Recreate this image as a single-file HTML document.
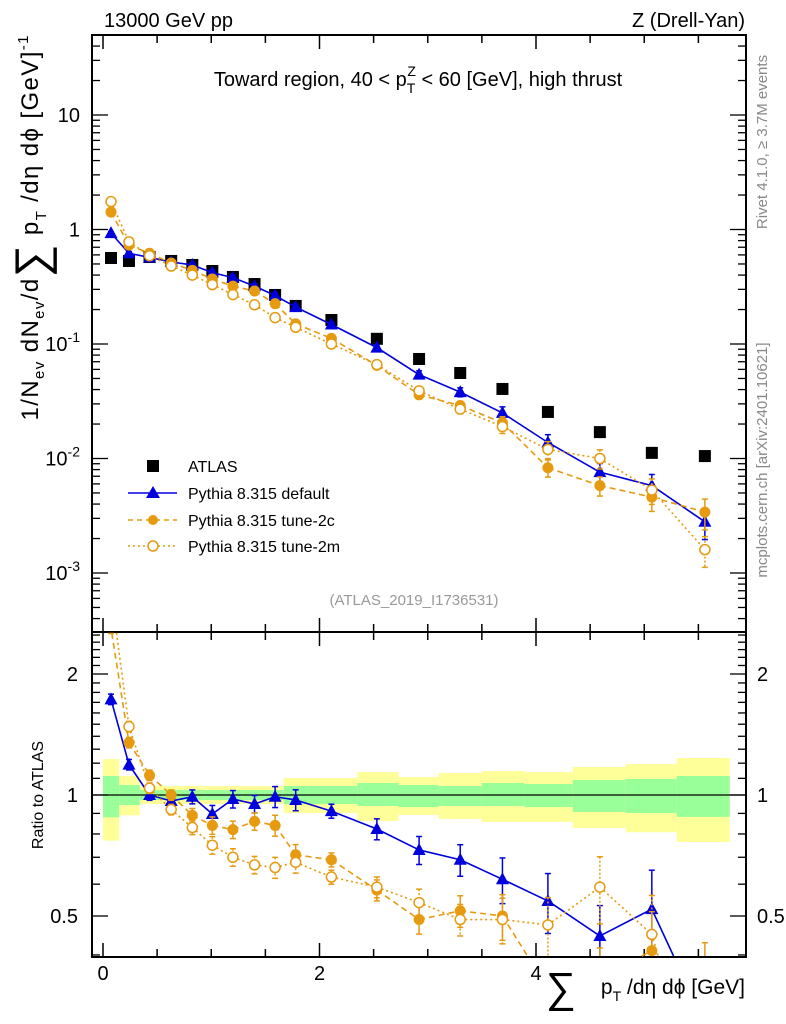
<!DOCTYPE html>
<html><head><meta charset="utf-8"><style>
html,body{margin:0;padding:0;background:#fff;overflow:hidden;width:786px;height:1024px;}
svg{display:block;font-family:"Liberation Sans",sans-serif;overflow:hidden;}
</style></head><body>
<svg id="c" width="786" height="1024" viewBox="0 0 786 1024" xmlns="http://www.w3.org/2000/svg">
<g id="bands"></g>
<g id="axes"></g>
<g id="marks"></g>
<text x="104" y="27" font-size="20">13000 GeV pp</text>
<text x="745" y="27" font-size="20" text-anchor="end">Z (Drell-Yan)</text>
<text x="418" y="86" font-size="20" text-anchor="middle">Toward region, 40 &lt; p<tspan font-size="14" dy="7">T</tspan><tspan font-size="14" dx="-8" dy="-17">Z</tspan><tspan dy="10"> &lt; 60 [GeV], high thrust</tspan></text>
<g transform="translate(38,228) rotate(-90)">
<text x="0" y="0" font-size="24" text-anchor="middle" textLength="385" lengthAdjust="spacing">1/N<tspan font-size="15" dy="6">ev</tspan><tspan dy="-6"> dN</tspan><tspan font-size="15" dy="6">ev</tspan><tspan dy="-6">/d</tspan><tspan font-size="46" dy="9">∑</tspan><tspan dy="-9"> p</tspan><tspan font-size="15" dy="8">T</tspan><tspan dy="-8"> /dη dϕ  [GeV]</tspan><tspan font-size="15" dy="-10">-1</tspan></text>
</g>
<text transform="translate(43,795) rotate(-90)" font-size="16" text-anchor="middle">Ratio to ATLAS</text>
<text transform="translate(767,142) rotate(-90)" font-size="15" fill="#888" text-anchor="middle">Rivet 4.1.0, ≥ 3.7M events</text>
<text transform="translate(767,460) rotate(-90)" font-size="15" fill="#888" text-anchor="middle">mcplots.cern.ch [arXiv:2401.10621]</text>
<text x="414" y="605" font-size="15" fill="#999" text-anchor="middle">(ATLAS_2019_I1736531)</text>
<g>
<text x="576" y="1002" font-size="42" text-anchor="end">∑</text>
<text x="745" y="994" font-size="21" text-anchor="end">p<tspan font-size="14" dy="7">T</tspan><tspan dy="-7"> /dη dϕ [GeV]</tspan></text>
</g>
<g>
<rect x="147" y="460" width="12" height="12" fill="#000"/>
<text x="188" y="472" font-size="16">ATLAS</text>
<line x1="128" y1="493" x2="177" y2="493" stroke="#0000dd" stroke-width="1.5"/>
<polygon points="153,486 160,498 146,498" fill="#0000dd"/>
<text x="188" y="499" font-size="16">Pythia 8.315 default</text>
<line x1="128" y1="520" x2="177" y2="520" stroke="#e69a10" stroke-width="1.5" stroke-dasharray="5,4"/>
<circle cx="153" cy="520" r="5" fill="#e69a10"/>
<text x="188" y="526" font-size="16">Pythia 8.315 tune-2c</text>
<line x1="128" y1="546" x2="177" y2="546" stroke="#e69a10" stroke-width="1.5" stroke-dasharray="2,3"/>
<circle cx="153" cy="546" r="5" fill="#fff" stroke="#e69a10" stroke-width="1.5"/>
<text x="188" y="552" font-size="16">Pythia 8.315 tune-2m</text>
</g>
</svg>
<script>
const xCenters=[0.074,0.24,0.43,0.63,0.825,1.01,1.2,1.4,1.59,1.78,2.11,2.53,2.92,3.3,3.69,4.11,4.59,5.07,5.56];
const binEdges=[0,0.15,0.34,0.52,0.72,0.92,1.1,1.3,1.5,1.67,1.9,2.35,2.73,3.1,3.5,3.89,4.34,4.83,5.3,5.79];
const atlasVals=[0.564,0.531,0.575,0.531,0.49,0.434,0.385,0.334,0.268,0.215,0.162,0.111,0.074,0.0558,0.0405,0.0255,0.017,0.0112,0.0105];
const defaultVals=[0.93,0.62,0.57,0.52,0.49,0.42,0.38,0.32,0.265,0.21,0.148,0.093,0.054,0.038,0.025,0.0138,0.0076,0.0058,0.0028];
const tune2cVals=[1.42,0.73,0.62,0.51,0.44,0.37,0.32,0.29,0.225,0.15,0.112,0.065,0.036,0.029,0.0205,0.0083,0.0058,0.0046,0.0034];
const tune2mVals=[1.75,0.78,0.59,0.48,0.40,0.33,0.27,0.22,0.17,0.14,0.10,0.066,0.039,0.027,0.019,0.012,0.010,0.0053,0.0016];
const defaultRatio=[1.73,1.19,1.0,0.966,0.99,0.897,0.977,0.95,0.99,0.972,0.912,0.823,0.73,0.69,0.617,0.545,0.446,0.52,0.27];
const tune2cRatio=[2.6,1.35,1.12,1.0,0.89,0.84,0.82,0.86,0.84,0.71,0.69,0.58,0.49,0.515,0.50,0.33,0.35,0.41,0.33];
const tune2mRatio=[3.2,1.48,1.04,0.92,0.83,0.75,0.70,0.67,0.66,0.68,0.625,0.59,0.54,0.49,0.49,0.475,0.59,0.45,0.16];
const relErr=[0.03,0.03,0.03,0.03,0.04,0.05,0.05,0.05,0.06,0.06,0.04,0.06,0.08,0.09,0.13,0.17,0.19,0.25,0.3];
const greenUp=[1.115,1.059,1.029,1.029,1.029,1.029,1.029,1.029,1.029,1.053,1.053,1.071,1.059,1.053,1.071,1.065,1.09,1.096,1.115];
const greenDn=[0.88,0.944,0.972,0.972,0.972,0.972,0.972,0.972,0.972,0.95,0.95,0.939,0.933,0.939,0.939,0.933,0.908,0.902,0.882];
const yellowUp=[1.229,1.115,1.053,1.053,1.053,1.053,1.053,1.053,1.053,1.102,1.102,1.14,1.108,1.134,1.147,1.14,1.174,1.194,1.236];
const yellowDn=[0.77,0.89,0.95,0.95,0.95,0.95,0.95,0.95,0.95,0.902,0.902,0.862,0.892,0.872,0.857,0.857,0.828,0.808,0.764];
const xTickLabels=[0,2,4];
const mainTickLabels=["10^-3","10^-2","10^-1","1","10"];
const ratioTickLabels=["0.5","1","2"];

const NS="http://www.w3.org/2000/svg";
const X=v=>103+108.25*v;
const YM=v=>229.5-114.5*Math.log10(v);
const YR=r=>795-121*Math.log2(r);
function mk(tag,attrs,parent){const e=document.createElementNS(NS,tag);for(const k in attrs)e.setAttribute(k,attrs[k]);parent.appendChild(e);return e;}
const bands=document.getElementById('bands'),axes=document.getElementById('axes'),marks=document.getElementById('marks');
const clampR=y=>Math.max(633,Math.min(956,y));

for(let i=0;i<xCenters.length;i++){
  const x0=X(binEdges[i]),x1=X(binEdges[i+1]);
  const yt=clampR(YR(yellowUp[i])),yb=clampR(YR(yellowDn[i]));
  const y=mk('rect',{x:x0,y:yt,width:x1-x0,height:yb-yt,fill:'#ffff99'},bands);
  
  
  const gt=clampR(YR(greenUp[i])),gb=clampR(YR(greenDn[i]));
  const g=mk('rect',{x:x0,y:gt,width:x1-x0,height:gb-gt,fill:'#99ff99'},bands);
  
  
}
mk('line',{x1:92,y1:YR(1),x2:746,y2:YR(1),stroke:'#000','stroke-width':1.3},axes);

mk('rect',{x:92,y:35,width:654,height:597,fill:'none',stroke:'#000','stroke-width':2},axes);
mk('rect',{x:92,y:632,width:654,height:325,fill:'none',stroke:'#000','stroke-width':2},axes);

for(let v=0;v<=6;v+=0.5){
  const x=X(v);if(x>746)break;
  const major=(v%2===0);const L=major?14:8;
  for(const [yt,dir] of [[35,1],[632,-1],[632,1],[957,-1]]){
    mk('line',{x1:x,y1:yt,x2:x,y2:yt+dir*L,stroke:'#000','stroke-width':1.5},axes);
  }
}
xTickLabels.forEach(v=>{
  const t=mk('text',{x:X(v),y:980,'font-size':20,'text-anchor':'middle'},axes);
  t.textContent=v;
  
  
});
for(let d=-4;d<=1;d++){
  for(let m=1;m<10;m++){
    const v=m*Math.pow(10,d);const y=YM(v);
    if(y<35||y>632)continue;
    const L=m===1?16:8;
    mk('line',{x1:92,y1:y,x2:92+L,y2:y,stroke:'#000','stroke-width':1.3},axes);
    mk('line',{x1:746,y1:y,x2:746-L,y2:y,stroke:'#000','stroke-width':1.3},axes);
  }
}
mainTickLabels.forEach((s,i)=>{
  const v=Math.pow(10,i-3);const y=YM(v);
  const t=mk('text',{x:80,y:y+7,'font-size':20,'text-anchor':'end'},axes);
  if(s.indexOf('^')>=0){const p=s.split('^');t.textContent=p[0];const sp=mk('tspan',{'font-size':14,dy:-9},t);sp.textContent=p[1];}
  else t.textContent=s;
  
  
});
for(let r=0.4;r<=2.55;r+=0.1){
  const rr=Math.round(r*10)/10;const y=YR(rr);if(y<632||y>957)continue;
  const major=(rr===0.5||rr===1||rr===2);const L=major?16:8;
  mk('line',{x1:92,y1:y,x2:92+L,y2:y,stroke:'#000','stroke-width':1.3},axes);
  mk('line',{x1:746,y1:y,x2:746-L,y2:y,stroke:'#000','stroke-width':1.3},axes);
}
ratioTickLabels.forEach(s=>{
  const y=YR(parseFloat(s));
  const t=mk('text',{x:78,y:y+7,'font-size':20,'text-anchor':'end'},axes);t.textContent=s;
  
  
  const t2=mk('text',{x:757,y:y+7,'font-size':20},axes);t2.textContent=s;
  
  
});

const series=[
 {name:'default',main:defaultVals,ratio:defaultRatio,color:'#0000dd',dash:'',marker:'tri'},
 {name:'tune-2c',main:tune2cVals,ratio:tune2cRatio,color:'#e69a10',dash:'6,4',marker:'dot'},
 {name:'tune-2m',main:tune2mVals,ratio:tune2mRatio,color:'#e69a10',dash:'2,3',marker:'open'}
];
function drawMarker(g,m,x,y,c){
  let e;
  if(m==='tri')e=mk('polygon',{points:`${x},${y-7} ${x+6.5},${y+5} ${x-6.5},${y+5}`,fill:c},g);
  else if(m==='dot')e=mk('circle',{cx:x,cy:y,r:5.5,fill:c},g);
  else e=mk('circle',{cx:x,cy:y,r:5,fill:'#fff',stroke:c,'stroke-width':1.5},g);
  return e;
}
// clip a segment to [top,bot] in y
function clipSeg(x1,y1,x2,y2,top,bot){
  function cut(xa,ya,xb,yb,yc){const t=(yc-ya)/(yb-ya);return [xa+t*(xb-xa),yc];}
  if((y1<top&&y2<top)||(y1>bot&&y2>bot))return null;
  let a=[x1,y1],b=[x2,y2];
  if(a[1]<top)a=cut(x1,y1,x2,y2,top);if(a[1]>bot)a=cut(x1,y1,x2,y2,bot);
  if(b[1]<top)b=cut(x1,y1,x2,y2,top);if(b[1]>bot)b=cut(x1,y1,x2,y2,bot);
  return [a,b];
}
atlasVals.forEach((v,i)=>{
  const r=mk('rect',{x:X(xCenters[i])-6,y:YM(v)-6,width:12,height:12,fill:'#000'},marks);
  
  
});
series.forEach(s=>{
  [[s.main,YM,36,631],[s.ratio,YR,633,956]].forEach(([vals,Y,top,bot])=>{
    let d='';
    for(let i=0;i+1<vals.length;i++){
      const c=clipSeg(X(xCenters[i]),Y(vals[i]),X(xCenters[i+1]),Y(vals[i+1]),top,bot);
      if(c)d+=`M${c[0][0]},${c[0][1]}L${c[1][0]},${c[1][1]}`;
    }
    const pl=mk('path',{d:d,fill:'none',stroke:s.color,'stroke-width':1.6,'stroke-dasharray':s.dash},marks);
    
    
    vals.forEach((v,i)=>{
      const x=X(xCenters[i]);const e=relErr[i];
      const yc=Y(v);
      const y1=Math.max(top,Y(v*(1+e))),y2=Math.min(bot,Y(v*(1-e)));
      if(y1<bot&&y2>top){
        mk('line',{x1:x,y1:y1,x2:x,y2:y2,stroke:s.color,'stroke-width':1.5,'stroke-dasharray':s.marker==='open'?'2,2':''},marks);
        if(y1>top)mk('line',{x1:x-3,y1:y1,x2:x+3,y2:y1,stroke:s.color,'stroke-width':1.5},marks);
        if(y2<bot)mk('line',{x1:x-3,y1:y2,x2:x+3,y2:y2,stroke:s.color,'stroke-width':1.5},marks);
      }
      if(yc>top+5&&yc<bot-5){
        const m=drawMarker(marks,s.marker,x,yc,s.color);
        
        
      }
    });
  });
});
</script>
</body></html>
